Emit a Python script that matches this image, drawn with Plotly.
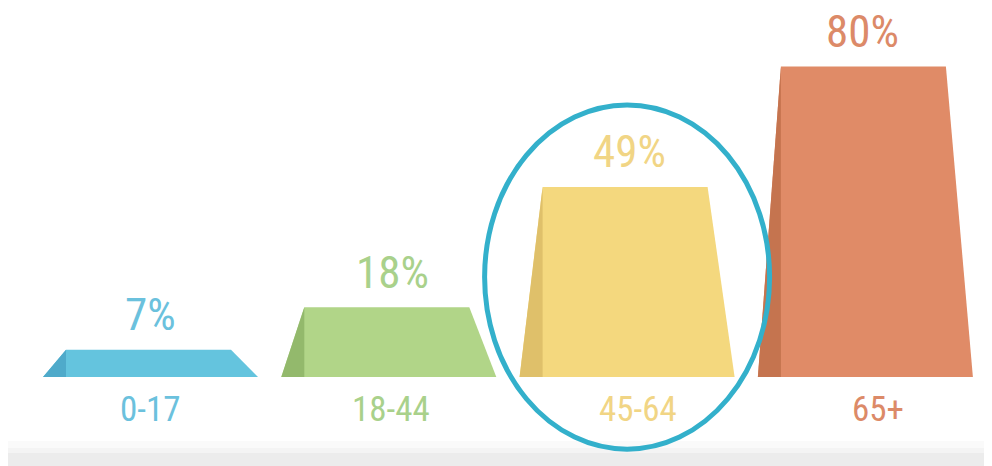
import plotly.graph_objects as go

# ---- data ----
categories = ["0-17", "18-44", "45-64", "65+"]
values = [7, 18, 49, 80]
value_labels = ["7%", "18%", "49%", "80%"]
highlight_index = 2

# ---- style ----
main_colors = ["#64C4DE", "#B1D588", "#F4D87E", "#E08B67"]
dark_colors = ["#4FAACA", "#93B96C", "#DFC06A", "#C5744F"]
text_colors = ["#6BC1DD", "#A9D18B", "#F1D585", "#DC8A68"]
ring_color = "#33B0CB"
value_label_xshift = [0, 4, 2, -3]      # pixels
cat_label_xshift = [0, 2, 11, 13]       # pixels

PAGE_OFFSET = 8           # default body margin of the html page
W, H = 992 - PAGE_OFFSET, 466 - PAGE_OFFSET
px_per_x = 238.3          # pixels per category step
first_center_px = 150.5 - PAGE_OFFSET
baseline_px = 377 - PAGE_OFFSET
px_per_pct = 3.88

x_range = [-first_center_px / px_per_x, (W - first_center_px) / px_per_x]
y_range = [-(H - baseline_px) / px_per_pct, baseline_px / px_per_pct]

half_bottom = 107.5 / px_per_x
inset_left = 23 / px_per_x
inset_right = 27 / px_per_x

fig = go.Figure()

for i, (cat, v) in enumerate(zip(categories, values)):
    bl, br = i - half_bottom, i + half_bottom
    tl, tr = bl + inset_left, br - inset_right
    fig.add_trace(go.Scatter(
        x=[bl, tl, tr, br, bl], y=[0, v, v, 0, 0],
        mode="lines", fill="toself", fillcolor=main_colors[i],
        line=dict(width=0, color=main_colors[i]), hoverinfo="skip",
        showlegend=False))
    fig.add_trace(go.Scatter(
        x=[bl, tl, tl, bl], y=[0, v, 0, 0],
        mode="lines", fill="toself", fillcolor=dark_colors[i],
        line=dict(width=0, color=dark_colors[i]), hoverinfo="skip",
        showlegend=False))

FONT = "Roboto Condensed, Liberation Sans, sans-serif"

annotations = []
for i, (lab, v) in enumerate(zip(value_labels, values)):
    annotations.append(dict(
        x=i, y=v, xref="x", yref="y", text=lab, showarrow=False,
        yanchor="middle", yshift=35, xshift=value_label_xshift[i],
        font=dict(family=FONT, size=45, color=text_colors[i])))
    annotations.append(dict(
        x=i, y=0, xref="x", yref="y", text=categories[i], showarrow=False,
        yanchor="middle", yshift=-32, xshift=cat_label_xshift[i],
        font=dict(family=FONT, size=35, color=text_colors[i])))

band_px = 13
shapes = [
    # soft gray band at the bottom
    dict(type="rect", xref="paper", yref="paper", x0=0, x1=1, y0=0, y1=(band_px + 12) / H,
         fillcolor="#FAFAFA", line=dict(width=0), layer="below"),
    dict(type="rect", xref="paper", yref="paper", x0=0, x1=1, y0=0, y1=(band_px + 5) / H,
         fillcolor="#F4F4F4", line=dict(width=0), layer="below"),
    dict(type="rect", xref="paper", yref="paper", x0=0, x1=1, y0=0, y1=band_px / H,
         fillcolor="#ECECEC", line=dict(width=0), layer="below"),
    # highlight ring
    dict(type="circle", xref="x", yref="y",
         x0=highlight_index - 0.598, x1=highlight_index + 0.598,
         y0=-18.6, y1=70.1,
         line=dict(color=ring_color, width=5), layer="above"),
]

fig.update_layout(
    width=W, height=H,
    margin=dict(l=0, r=0, t=0, b=0),
    paper_bgcolor="white", plot_bgcolor="rgba(0,0,0,0)",
    xaxis=dict(range=x_range, visible=False, fixedrange=True),
    yaxis=dict(range=y_range, visible=False, fixedrange=True),
    annotations=annotations, shapes=shapes,
    showlegend=False,
)

fig.write_html("out.html")
